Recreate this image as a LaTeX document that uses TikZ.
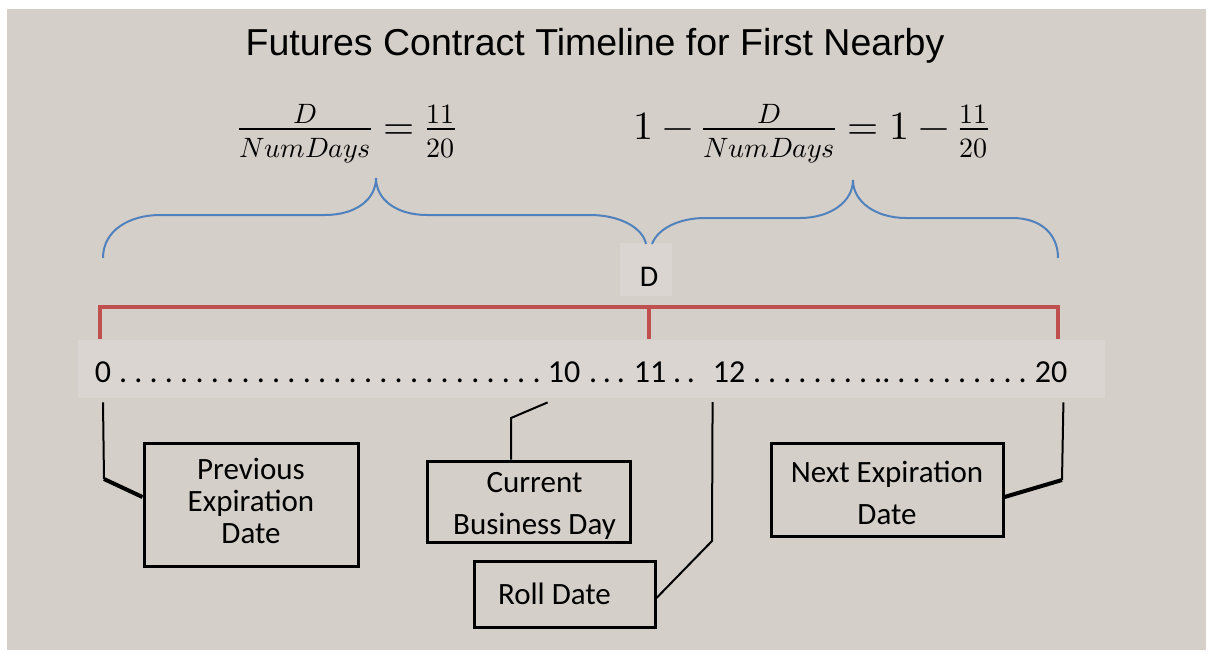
\documentclass[tikz,border=0pt]{standalone}
\usepackage{fontspec}
\usepackage{unicode-math}
\setmainfont{Carlito}
\setmathfont{Latin Modern Math}
\newfontfamily\titlefont{Liberation Sans}
\usetikzlibrary{positioning,calc}

\definecolor{bggray}{HTML}{D5CFC9}
\definecolor{bandgray}{HTML}{DAD5D0}
\definecolor{braceblue}{HTML}{4F81BD}
\definecolor{linered}{HTML}{C0504D}

\newcommand{\rowfont}{\fontsize{32}{38}\selectfont}
\newcommand{\mathsize}{\fontsize{40}{48}\selectfont}
\newcommand{\lowfrac}[2]{\frac{#1}{\rule{0pt}{27pt}#2}}
\newcommand{\dotspan}[2]{\makebox[#1][s]{\spaceskip=0pt plus 1fil\relax #2}}

\tikzset{
  bracestyle/.style={draw=braceblue, line width=2pt},
  timeline/.style={draw=linered, line width=4pt, line join=miter},
  numlabel/.style={font=\rowfont, anchor=base, inner xsep=0pt, inner ysep=20pt},
  dotrun/.style={font=\rowfont, anchor=base, inner xsep=0pt},
  datebox/.style={draw, line width=3pt, inner sep=0pt},
  boxtext/.style={align=center, inner sep=0pt},
  conn/.style={line width=2pt},
  connthick/.style={line width=4pt}
}

\begin{document}
\begin{tikzpicture}[x=1pt,y=-1pt]
    % background
    \useasboundingbox (0,0) rectangle (1210,654);
    \fill[bggray] (7,9) rectangle (1206,650);
    \fill[bandgray] (78,340) rectangle (1105,398);
    \fill[bandgray] (620,243) rectangle (672,296);

    % title and formulas
    \node[anchor=base] (title) at (595,55) {\titlefont\fontsize{37.5}{44}\selectfont Futures Contract Timeline for First Nearby};
    \node[anchor=base] (fracleft) at (347,139) {\mathsize $\lowfrac{D}{NumDays}=\lowfrac{11}{20}$};
    \node[anchor=base] (fracright) at (811,139) {\mathsize $1-\lowfrac{D}{NumDays}=1-\lowfrac{11}{20}$};

    % braces
    \coordinate (tipleft) at (376,178);
    \coordinate (tipright) at (853,180);
    \draw[bracestyle] (103,258) .. controls (103,230) and (130,215) .. (160,215) -- (325,215)
        .. controls (355,215) and (376,200) .. (tipleft)
        .. controls (376,200) and (397,215) .. (427,215) -- (590,215)
        .. controls (620,215) and (643,228) .. (646,244);
    \draw[bracestyle] (652,244) .. controls (658,228) and (680,218) .. (705,218) -- (800,218)
        .. controls (830,218) and (853,202) .. (tipright)
        .. controls (853,202) and (876,218) .. (906,218) -- (1012,218)
        .. controls (1042,218) and (1058,235) .. (1058,258);

    % D and red timeline
    \node[font=\fontsize{30}{36}\selectfont] (dlabel) at (649,277) {D};
    \coordinate (t0) at (100,307);
    \coordinate (t11) at (649,307);
    \coordinate (t20) at (1058,307);
    \draw[timeline] (t0 |- 0,339) -- (t0) -- (t20) -- (t20 |- 0,339);
    \draw[timeline] (t11) -- (t11 |- 0,339);

    % day numbers
    \node[numlabel] (n0) at (103,382) {0};
    \node[dotrun] (dots0) at (330,382) {\dotspan{422pt}{. . . . . . . . . . . . . . . . . . . . . . . . . . . .}};
    \node[numlabel] (n10) at (564,382) {10};
    \node[dotrun] (dots10) at (607,382) {\dotspan{36pt}{. . .}};
    \node[numlabel] (n11) at (650,382) {11};
    \node[dotrun] (dots11) at (684,382) {\dotspan{22pt}{. .}};
    \node[numlabel] (n12) at (729,382) {12};
    \node[dotrun] (dots12) at (890,382) {\dotspan{274pt}{. . . . . . . . .. . . . . . . . . .}};
    \node[numlabel] (n20) at (1051,382) {20};

    % boxes
    \node[datebox, minimum width=214pt, minimum height=123pt] (prevbox) at (251,504.5) {};
    \node[datebox, minimum width=203pt, minimum height=81pt] (curbox) at (528.5,501.5) {};
    \node[datebox, minimum width=181pt, minimum height=66pt] (rollbox) at (564.5,594) {};
    \node[datebox, minimum width=232pt, minimum height=93pt] (nextbox) at (887,489.5) {};
    \node[boxtext, font=\fontsize{31}{32}\selectfont] (prevtext) at ([yshift=4pt]prevbox.center) {Previous\\Expiration\\Date};
    \node[boxtext, font=\fontsize{31}{42}\selectfont] (curtext) at ([xshift=6pt,yshift=-4pt]curbox.center) {Current\\Business Day};
    \node[boxtext, font=\fontsize{31}{38}\selectfont] (rolltext) at ([xshift=-10pt]rollbox.center) {Roll Date};
    \node[boxtext, font=\fontsize{31}{42}\selectfont] (nexttext) at ([yshift=-3pt]nextbox.center) {Next Expiration\\Date};

    % connectors
    \coordinate (prevbend) at (104,479);
    \coordinate (curbend) at (511,418);
    \coordinate (rollbend) at (712,541);
    \coordinate (nextbend) at (1062,480);
    \draw[conn] (n0.south) -- (prevbend);
    \draw[connthick] (prevbend) -- ([yshift=7.5pt]prevbox.west);
    \draw[conn] (n10.south west) -- (curbend) -- (curbend |- curbox.north);
    \draw[conn] (n12.south west) -- (rollbend) -- ([yshift=-4pt]rollbox.east);
    \draw[conn] ([xshift=-4pt]n20.south east) -- (nextbend);
    \draw[connthick] (nextbend) -- ([yshift=-7.5pt]nextbox.east);
\end{tikzpicture}
\end{document}
